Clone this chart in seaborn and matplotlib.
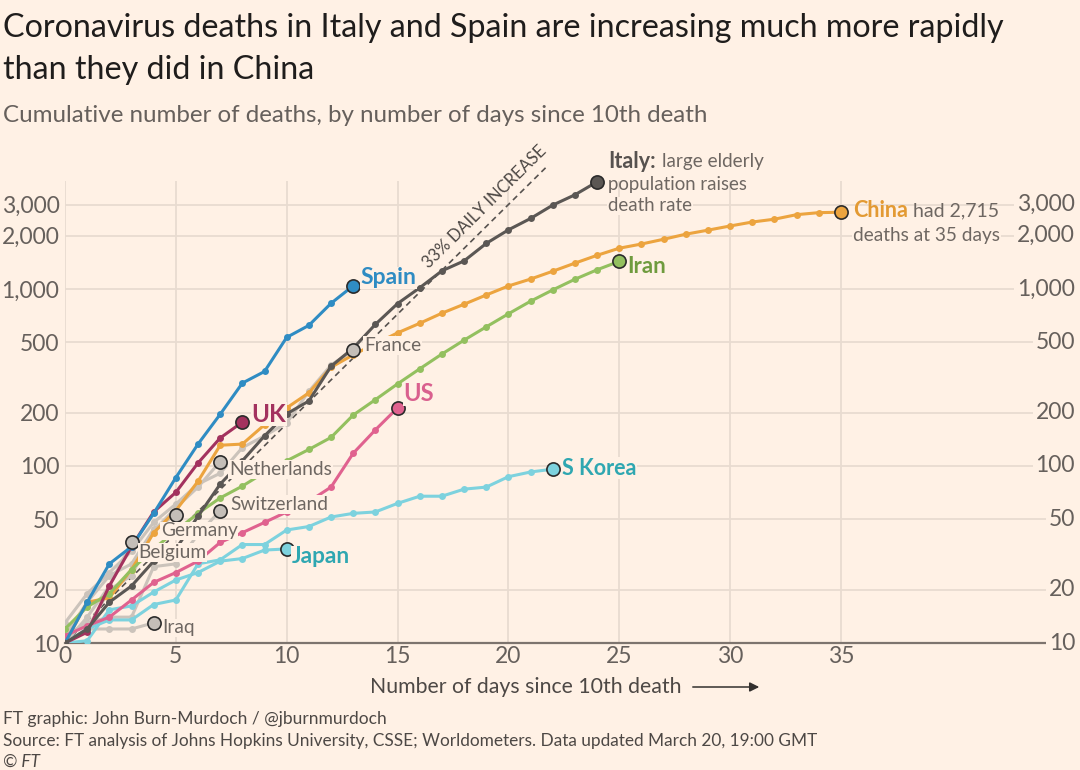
import numpy as np
import pandas as pd
import matplotlib
matplotlib.use("Agg")
import matplotlib.pyplot as plt
import seaborn as sns
from matplotlib.ticker import FixedLocator, NullLocator

# data: cumulative deaths, one value per day since 10th death
italy = [10, 12, 17, 21, 29, 34, 52, 79, 107, 148, 197, 233, 366, 463, 631, 827,
         1016, 1266, 1441, 1809, 2158, 2503, 2978, 3405, 4032]
spain = [10, 17, 28, 35, 54, 86, 133, 196, 294, 342, 533, 623, 830, 1043]
china = [10, 17, 18, 26, 42, 56, 82, 131, 133, 171, 213, 259, 361, 425, 490, 565,
         640, 730, 820, 925, 1040, 1138, 1260, 1400, 1550, 1700, 1795, 1910, 2040,
         2150, 2270, 2390, 2480, 2630, 2700, 2715]
iran = [12, 16, 19, 26, 34, 43, 54, 66, 77, 92, 107, 124, 145, 194, 237, 291, 354,
        429, 514, 611, 724, 853, 988, 1135, 1284, 1433]
us = [11, 12.5, 14, 17.5, 22, 25, 29, 37, 42, 48, 55, 63, 76, 118, 160, 213]
uk = [10, 11.5, 21, 35, 55, 71, 104, 144, 177]
s_korea = [10, 12, 13.5, 13.5, 16.5, 17.5, 28, 29.5, 36, 36, 43.5, 45.5, 51.5, 54,
           55, 61.5, 67.5, 67.5, 74, 76, 87, 92.5, 96]
japan = [10, 10.3, 15.4, 16.2, 19.4, 22.7, 25, 29, 30, 33.5, 34]
france = [13, 19, 25, 33, 48, 61, 79, 91, 127, 148, 175, 264, 372, 450]
netherlands = [10, 12, 20, 24, 43, 58, 76, 106]
switzerland = [11, 13, 14, 14, 27, 28, 41, 56]
germany = [11, 17, 24, 28, 44, 53]
belgium = [10, 14, 21, 37]
iraq = [10, 12, 12, 12, 13]

series = {
    "Iraq": iraq, "Belgium": belgium, "Germany": germany, "Switzerland": switzerland,
    "Netherlands": netherlands, "France": france,
    "China": china, "Iran": iran, "S Korea": s_korea, "Japan": japan, "US": us,
    "UK": uk, "Spain": spain, "Italy": italy,
}

daily_rate = 1.33
y_ticks = [10, 20, 50, 100, 200, 500, 1000, 2000, 3000]
x_ticks = [0, 5, 10, 15, 20, 25, 30, 35]

BG = "#fff1e5"
GREY = "#cbc3bb"
line_colors = {
    "Iraq": GREY, "Belgium": GREY, "Germany": GREY, "Switzerland": GREY,
    "Netherlands": GREY, "France": GREY,
    "China": "#eca43f", "Iran": "#93c05f", "S Korea": "#7dd2de", "Japan": "#7dd2de",
    "US": "#e0628f", "UK": "#a3325e", "Spain": "#2f8cc3", "Italy": "#5b5754",
}
label_colors = {
    "China": "#e39a33", "Iran": "#6f9b3e", "S Korea": "#2fa7b1", "Japan": "#2fa7b1",
    "US": "#d9608e", "UK": "#a3325e", "Spain": "#2f8cc3",
}

rows = []
for name, vals in series.items():
    for d, v in enumerate(vals):
        rows.append({"country": name, "day": d, "deaths": v})
df = pd.DataFrame(rows)

sns.set_theme(style="white")
plt.rcParams["font.family"] = ["Lato", "DejaVu Sans"]

fig = plt.figure(figsize=(10.8, 7.7), dpi=100, facecolor=BG)
W, H = 1080, 770
ax = fig.add_axes([65 / W, (H - 643) / H, 1010 / W, (643 - 181) / H])
ax.set_facecolor(BG)

ax.set_yscale("log")
ax.set_xlim(0, 1010 / 22.17)
ax.set_ylim(10, 10 ** (1 + (643 - 181) / 177))

for yv in y_ticks:
    ax.axhline(yv, color="#e8dbd0", lw=1.3, zorder=0)
for xv in x_ticks:
    ax.axvline(xv, color="#e8dbd0", lw=1.3, zorder=0)

# 33% daily increase guide
gx = np.linspace(0, 21.8, 50)
ax.plot(gx, 10 * daily_rate ** gx, ls=(0, (3.5, 2.5)), color="#57524f", lw=1.2,
        zorder=2, clip_on=False)

sns.lineplot(data=df, x="day", y="deaths", hue="country", hue_order=list(series),
             palette=line_colors, marker="o", markersize=5, markeredgewidth=0,
             lw=2.2, legend=False, sort=False, estimator=None, ax=ax, zorder=3)

ends = df.groupby("country", sort=False).tail(1)
for _, r in ends.iterrows():
    fc = line_colors[r["country"]]
    if fc == GREY:
        fc = "#c4beb8"
    ax.plot(r["day"], r["deaths"], "o", ms=9.5, mfc=fc, mec="#2b2b2b", mew=1.2,
            zorder=5, clip_on=False)

ax.yaxis.set_major_locator(FixedLocator(y_ticks))
ax.yaxis.set_minor_locator(NullLocator())
ax.set_yticklabels([f"{v:,}" for v in y_ticks])
ax.set_xticks(x_ticks)
ax.tick_params(axis="both", length=0, labelsize=16.5, labelcolor="#66605c")
ax.tick_params(axis="y", pad=4)
ax.tick_params(axis="x", pad=2)
ax.set_xlabel("")
ax.set_ylabel("")
for s in ["top", "right", "left"]:
    ax.spines[s].set_visible(False)
ax.spines["bottom"].set_color("#7d746e")
ax.spines["bottom"].set_linewidth(1.6)

# right-hand tick labels sitting over the gridlines
for yv in y_ticks:
    ax.text(1.0, yv, f"{yv:,}", transform=ax.get_yaxis_transform(),
            ha="right", va="center", fontsize=16.5, color="#66605c", zorder=6,
            bbox=dict(facecolor=BG, edgecolor="none", pad=2))

box = dict(facecolor=BG, edgecolor="none", pad=0.5)

def end_label(name, text, dx, dy, color, size=15.5, weight="bold"):
    vals = series[name]
    ax.annotate(text, xy=(len(vals) - 1, vals[-1]), xytext=(dx, dy),
                textcoords="offset pixels", ha="left", va="center",
                fontsize=size, fontweight=weight, color=color, zorder=7, bbox=box)

end_label("Spain", "Spain", 7, 8, label_colors["Spain"], size=16.5)
end_label("Iran", "Iran", 8, -5, label_colors["Iran"], size=16)
end_label("US", "US", 6, 14, label_colors["US"], size=17)
end_label("UK", "UK", 9, 8, label_colors["UK"], size=17.5)
end_label("S Korea", "S Korea", 9, 1, label_colors["S Korea"])
end_label("Japan", "Japan", 5, -8, label_colors["Japan"], size=16.3)

grey_txt = "#6e6762"
end_label("France", "France", 11, 5, grey_txt, size=13.8, weight="normal")
end_label("Netherlands", "Netherlands", 9, -8, grey_txt, size=13.8, weight="normal")
end_label("Switzerland", "Switzerland", 10, 6, grey_txt, size=13.8, weight="normal")
end_label("Germany", "Germany", -15, -16, grey_txt, size=13.8, weight="normal")
end_label("Belgium", "Belgium", 7, -10, grey_txt, size=13.8, weight="normal")
end_label("Iraq", "Iraq", 9, -5, grey_txt, size=13.8, weight="normal")

# Italy note
ix, iy = len(italy) - 1, italy[-1]
ax.annotate("Italy:", xy=(ix, iy), xytext=(11, 20), textcoords="offset pixels",
            ha="left", va="center", fontsize=15.5, fontweight="bold", color="#57524f", zorder=7)
ax.annotate("large elderly", xy=(ix, iy), xytext=(65, 20), textcoords="offset pixels",
            ha="left", va="center", fontsize=13.6, color=grey_txt, zorder=7)
ax.annotate("population raises", xy=(ix, iy), xytext=(11, -3), textcoords="offset pixels",
            ha="left", va="center", fontsize=13.4, color=grey_txt, zorder=7)
ax.annotate("death rate", xy=(ix, iy), xytext=(11, -24), textcoords="offset pixels",
            ha="left", va="center", fontsize=13.4, color=grey_txt, zorder=7, bbox=box)

# China note
cx, cy = len(china) - 1, china[-1]
ax.annotate("China", xy=(cx, cy), xytext=(12, 2), textcoords="offset pixels",
            ha="left", va="center", fontsize=15.5, fontweight="bold",
            color=label_colors["China"], zorder=7)
ax.annotate("had 2,715", xy=(cx, cy), xytext=(72, 1), textcoords="offset pixels",
            ha="left", va="center", fontsize=14, color=grey_txt, zorder=7)
ax.annotate("deaths at 35 days", xy=(cx, cy), xytext=(12, -23), textcoords="offset pixels",
            ha="left", va="center", fontsize=13.7, color=grey_txt, zorder=7, bbox=box)

# guide label
ang = np.degrees(np.arctan2(177 * np.log10(daily_rate), 22.17))
tx = 19.4
ax.annotate("33% DAILY INCREASE", xy=(tx, 10 * daily_rate ** tx), xytext=(-10, 11),
            textcoords="offset pixels", ha="center", va="center", rotation=ang,
            rotation_mode="anchor", fontsize=12, color="#4d4845", zorder=7,
            annotation_clip=False)

# titles and footer
fig.text(3 / W, 1 - 28 / H, "Coronavirus deaths in Italy and Spain are increasing much more rapidly",
         ha="left", va="center", fontsize=23.2, color="#1f1d1c")
fig.text(3 / W, 1 - 70 / H, "than they did in China",
         ha="left", va="center", fontsize=23.2, color="#1f1d1c")
fig.text(3 / W, 1 - 115 / H, "Cumulative number of deaths, by number of days since 10th death",
         ha="left", va="center", fontsize=17.4, color="#66605c")
fig.text(370 / W, 1 - 687 / H, "Number of days since 10th death", ha="left", va="center",
         fontsize=15.3, color="#4d4845")
fig.add_artist(matplotlib.patches.FancyArrowPatch((690 / W, 1 - 687 / H), (762 / W, 1 - 687 / H),
               transform=fig.transFigure, arrowstyle="-|>", mutation_scale=14,
               color="#33302e", lw=1.1))
fig.text(3 / W, 1 - 719 / H, "FT graphic: John Burn-Murdoch / @jburnmurdoch",
         ha="left", va="center", fontsize=12.5, color="#4d4845")
fig.text(3 / W, 1 - 741 / H,
         "Source: FT analysis of Johns Hopkins University, CSSE; Worldometers. Data updated March 20, 19:00 GMT",
         ha="left", va="center", fontsize=12.4, color="#4d4845")
fig.text(3 / W, 1 - 762 / H, "© FT", ha="left", va="center", fontsize=12.4,
         style="italic", color="#4d4845")

fig.savefig("out.png", dpi=100, facecolor=BG)
